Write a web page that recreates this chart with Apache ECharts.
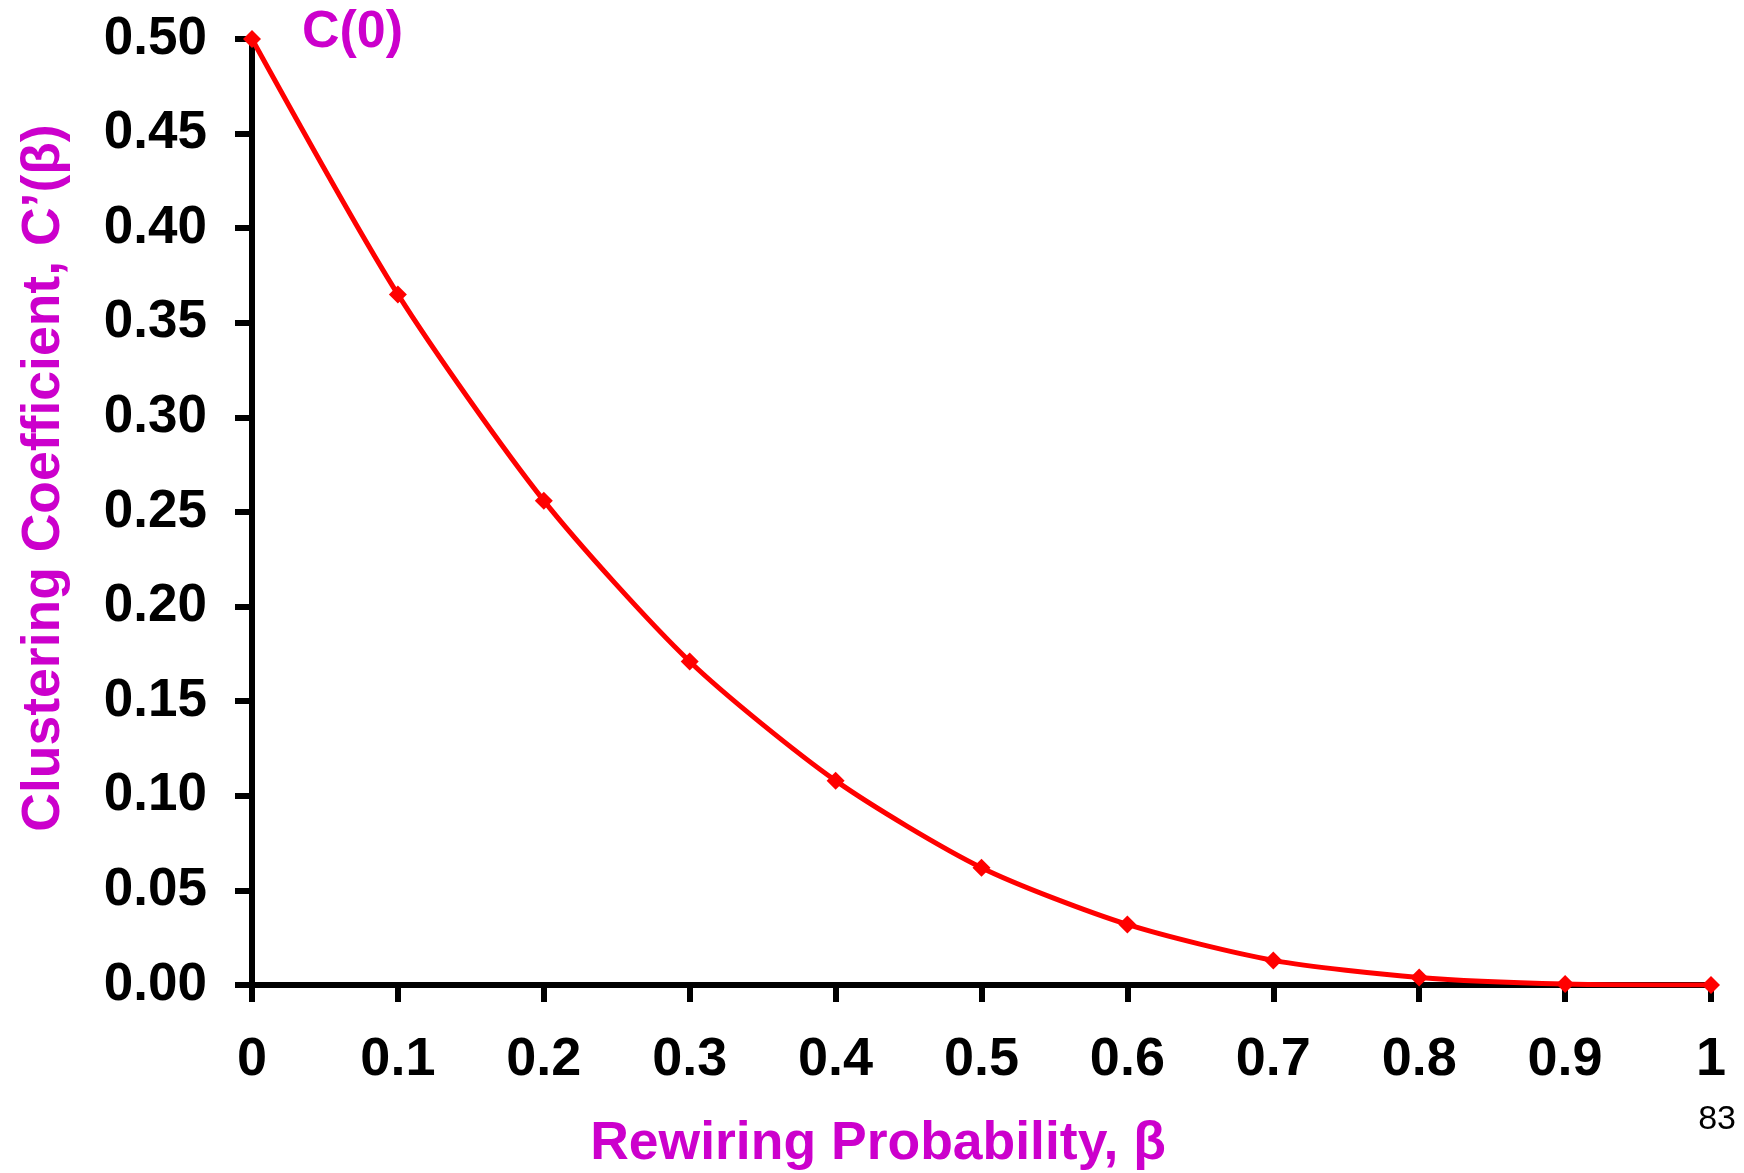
<!DOCTYPE html>
<html>
<head>
<meta charset="utf-8">
<script src="https://cdn.jsdelivr.net/npm/echarts@6/dist/echarts.min.js"></script>
<style>
  html, body { margin: 0; padding: 0; background: #fff; }
  #chart { width: 1744px; height: 1173px; }
</style>
</head>
<body>
<div id="chart"></div>
<script>
// rewiring probability (x) and clustering coefficient (y)
const betaValues = [0, 0.1, 0.2, 0.3, 0.4, 0.5, 0.6, 0.7, 0.8, 0.9, 1];
const clusteringValues = [0.5, 0.365, 0.256, 0.171, 0.108, 0.062, 0.032, 0.013, 0.004, 0.0005, 0];
const xAxisTitle = 'Rewiring Probability, β';
const yAxisTitle = 'Clustering Coefficient, C’(β)';
const startLabel = 'C(0)';
const pageNumber = '83';

const magenta = '#CC00CC';
const font = '"Liberation Sans", Arial, sans-serif';

const seriesData = betaValues.map((b, i) => {
  const item = { value: [b, clusteringValues[i]] };
  if (i === 0) {
    item.label = {
      show: true,
      formatter: startLabel,
      position: 'right',
      distance: 41,
      offset: [0, -6],
      color: magenta,
      fontFamily: font,
      fontWeight: 'bold',
      fontSize: 52
    };
  }
  return item;
});

const chart = echarts.init(document.getElementById('chart'));
chart.setOption({
  animation: false,
  backgroundColor: '#fff',
  grid: { left: 252, right: 33, top: 39, bottom: 188 },
  xAxis: {
    type: 'value',
    min: 0,
    max: 1,
    interval: 0.1,
    axisLine: { lineStyle: { color: '#000', width: 6 } },
    axisTick: { show: true, length: 17, lineStyle: { color: '#000', width: 6 } },
    splitLine: { show: false },
    axisLabel: {
      margin: 48,
      color: '#000',
      fontFamily: font,
      fontWeight: 'bold',
      fontSize: 54,
      formatter: v => String(Math.round(v * 10) / 10)
    }
  },
  yAxis: {
    type: 'value',
    min: 0,
    max: 0.5,
    interval: 0.05,
    axisLine: { show: true, lineStyle: { color: '#000', width: 6 } },
    axisTick: { show: true, length: 17, lineStyle: { color: '#000', width: 6 } },
    splitLine: { show: false },
    axisLabel: {
      margin: 45,
      color: '#000',
      fontFamily: font,
      fontWeight: 'bold',
      fontSize: 53,
      formatter: v => v.toFixed(2)
    }
  },
  series: [{
    type: 'line',
    data: seriesData,
    smooth: 0.25,
    symbol: 'diamond',
    symbolSize: 18,
    itemStyle: { color: '#FF0000' },
    lineStyle: { color: '#FF0000', width: 5 },
    z: 3
  }],
  graphic: [
    {
      type: 'text',
      x: 878,
      y: 1144,
      style: {
        text: xAxisTitle,
        fill: magenta,
        font: 'bold 53.5px ' + font,
        textAlign: 'center',
        textVerticalAlign: 'middle'
      }
    },
    {
      type: 'text',
      x: 44,
      y: 478,
      rotation: Math.PI / 2,
      style: {
        text: yAxisTitle,
        fill: magenta,
        font: 'bold 53.5px ' + font,
        textAlign: 'center',
        textVerticalAlign: 'middle'
      }
    },
    {
      type: 'text',
      right: 8,
      top: 1103,
      style: {
        text: pageNumber,
        fill: '#000',
        font: '34px ' + font
      }
    }
  ]
});
</script>
</body>
</html>
